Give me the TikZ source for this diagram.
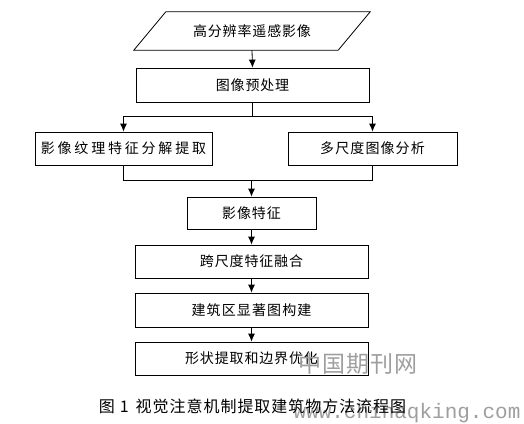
\documentclass[tikz,border=0pt]{standalone}
\usepackage{fontspec}
\newfontfamily\cjk{Noto Sans CJK SC}
\newfontfamily\wmono{Liberation Mono}
\usetikzlibrary{arrows.meta}
\tikzset{
  box/.style={draw, line width=0.8pt, minimum height=33pt, inner sep=0pt, font=\cjk\fontsize{14}{16}\selectfont},
  arr/.style={line width=0.8pt, -{Latex[length=8pt,width=7pt]}},
  ln/.style={line width=0.8pt},
  wm/.style={text=black!38, inner sep=0pt}
}
\begin{document}
\begin{tikzpicture}[x=1pt,y=-1pt]
\useasboundingbox (0,0) rectangle (524,423);
% source parallelogram
\node[minimum width=204pt, minimum height=38pt, inner sep=0pt, font=\cjk\fontsize{14}{16}\selectfont] (src) at (252,31) {\addfontfeature{LetterSpace=6}高分辨率遥感影像};
\draw[ln] ([xshift=16pt]src.north west) -- ([xshift=16pt]src.north east) -- ([xshift=-16pt]src.south east) -- ([xshift=-16pt]src.south west) -- cycle;
\node[box, minimum width=233pt, minimum height=34pt] (pre) at (252.5,85) {\addfontfeature{LetterSpace=6}图像预处理};
\node[box, minimum width=177pt] (tex) at (123.5,148.5) {\addfontfeature{LetterSpace=20}影像纹理特征分解提取};
\node[box, minimum width=169pt] (ms) at (372.5,148.5) {\addfontfeature{LetterSpace=8}多尺度图像分析};
\node[box, minimum width=129pt, minimum height=32pt] (feat) at (251.5,213) {\addfontfeature{LetterSpace=6}影像特征};
\node[box, minimum width=233pt] (fuse) at (251.5,261.5) {\addfontfeature{LetterSpace=6}跨尺度特征融合};
\node[box, minimum width=233pt, minimum height=34pt] (sal) at (251.5,310) {\addfontfeature{LetterSpace=8}建筑区显著图构建};
\node[box, minimum width=233pt] (opt) at (251.5,358.5) {\addfontfeature{LetterSpace=6}形状提取和边界优化};
% connectors
\draw[arr] (src.south) -- (pre.north);
\draw[ln] (pre.south) -- ++(0,14) coordinate (b1);
\draw[arr] (b1) -| (tex.north);
\draw[arr] (b1) -| (ms.north);
\draw[ln] (tex.south) -- ++(0,15) coordinate (m1) -- (m1 -| ms.south) -- (ms.south);
\draw[arr] (m1 -| feat.north) -- (feat.north);
\draw[arr] (feat.south) -- (fuse.north);
\draw[arr] (fuse.south) -- (sal.north);
\draw[arr] (sal.south) -- (opt.north);
% watermark
\node[wm, font=\cjk\fontsize{23}{26}\selectfont] (wm1) at (358,364) {\addfontfeature{LetterSpace=4}中国期刊网};
\node[wm, font=\wmono\fontsize{21}{24}\selectfont] (wm2) at (407,413) {www.chinaqking.com};
% caption
\node[inner sep=0pt, font=\cjk\fontsize{16}{18}\selectfont] (cap) at (252.5,406) {\addfontfeature{LetterSpace=6}图\hspace{5pt}1\hspace{7pt}视觉注意机制提取建筑物方法流程图};
\end{tikzpicture}
\end{document}
